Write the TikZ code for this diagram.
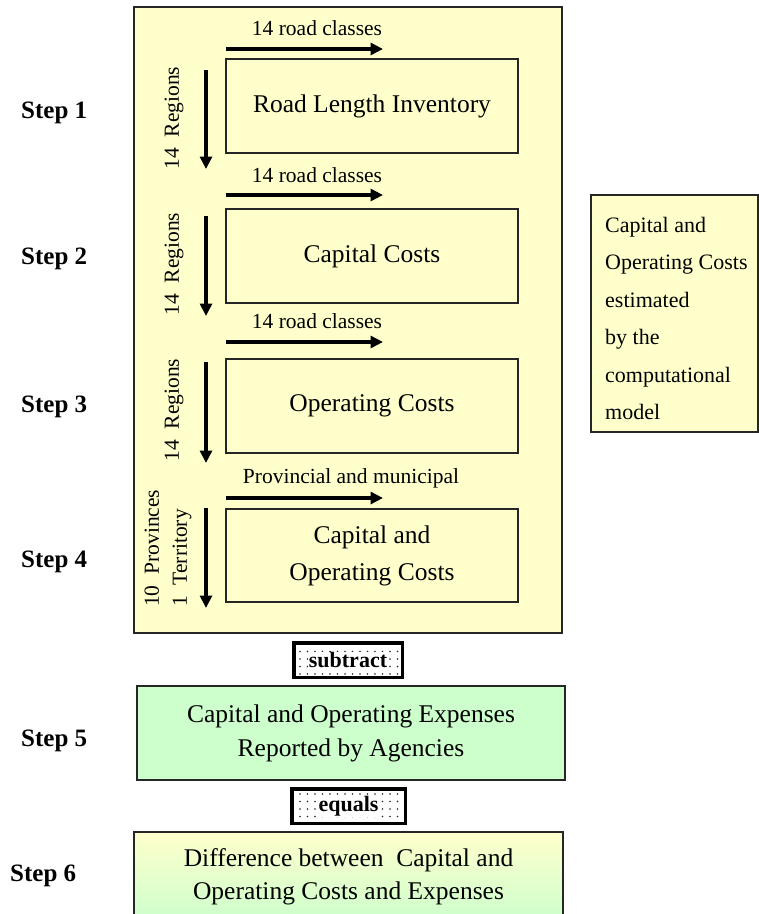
\documentclass[tikz,border=0pt]{standalone}
\usepackage{fontspec}
\setmainfont{Liberation Serif}
\usetikzlibrary{arrows.meta,patterns.meta}
\definecolor{lightyel}{HTML}{FFFFCC}
\definecolor{lightgrn}{HTML}{CCFFCC}
\definecolor{edgecol}{HTML}{262626}
\begin{document}
\begin{tikzpicture}[x=1pt,y=-1pt,
  boxline/.style={draw=edgecol,line width=1.3pt},
  steplabel/.style={font=\fontsize{25}{30}\selectfont\bfseries,anchor=west,inner sep=0pt},
  mainbox/.style={boxline,fill=lightyel,minimum width=428pt,minimum height=626pt,inner sep=0pt},
  innerbox/.style={boxline,fill=lightyel,minimum width=292pt,minimum height=94pt,inner sep=0pt,
    font=\fontsize{25.5}{37}\selectfont,align=center},
  sidebox/.style={boxline,fill=lightyel,minimum width=167pt,minimum height=237pt,inner sep=0pt,
    font=\fontsize{22}{37.4}\selectfont,align=left},
  greenbox/.style={boxline,fill=lightgrn,minimum width=428pt,minimum height=94pt,inner sep=0pt,
    font=\fontsize{25.5}{34}\selectfont,align=center},
  gradbox/.style={boxline,top color=lightyel,bottom color=lightgrn,minimum width=429pt,minimum height=89pt,inner sep=0pt,
    font=\fontsize{25.5}{33}\selectfont,align=center},
  opbox/.style={draw=black,line width=3.5pt,preaction={fill=white},
    pattern={Dots[distance=7.5pt,radius=0.8pt]},pattern color=black!85,
    inner sep=0pt,font=\fontsize{22}{26}\selectfont\bfseries},
  dimlabel/.style={font=\fontsize{21.5}{26}\selectfont,inner sep=0pt},
  rotlabel/.style={font=\fontsize{21.5}{28}\selectfont,inner sep=0pt,rotate=90},
  flowarrow/.style={line width=3.3pt,-{Triangle[length=12.5pt,width=12pt]}}
]
\useasboundingbox (0,0) rectangle (759,914);
\clip (0,0) rectangle (759,914);

% main yellow panel
\node[mainbox] (main) at (348,320) {};

% step labels
\node[steplabel] (s1) at (21,113) {Step 1};
\node[steplabel] (s2) at (21,259) {Step 2};
\node[steplabel] (s3) at (21,407) {Step 3};
\node[steplabel] (s4) at (21,562) {Step 4};
\node[steplabel] (s5) at (21,741) {Step 5};
\node[steplabel] (s6) at (10,876) {Step 6};

% inner boxes
\node[innerbox] (b1) at (372,106) {Road Length Inventory};
\node[innerbox] (b2) at (372,256) {Capital Costs};
\node[innerbox] (b3) at (372,406) {Operating Costs};
\node[innerbox,minimum height=93pt] (b4) at (372,555.5) {Capital and\\Operating Costs};

% horizontal arrows and labels
\coordinate (h1s) at (226,49);  \coordinate (h1e) at (383,49);
\coordinate (h2s) at (226,195); \coordinate (h2e) at (383,195);
\coordinate (h3s) at (226,342); \coordinate (h3e) at (383,342);
\coordinate (h4s) at (226,498); \coordinate (h4e) at (383,498);
\draw[flowarrow] (h1s) -- (h1e);
\draw[flowarrow] (h2s) -- (h2e);
\draw[flowarrow] (h3s) -- (h3e);
\draw[flowarrow] (h4s) -- (h4e);
\node[dimlabel] (l1) at (317,28) {14 road classes};
\node[dimlabel] (l2) at (317,175) {14 road classes};
\node[dimlabel] (l3) at (317,321) {14 road classes};
\node[dimlabel] (l4) at (351,478) {Provincial and municipal};

% vertical arrows and labels
\coordinate (v1s) at (206,70);  \coordinate (v1e) at (206,169);
\coordinate (v2s) at (206,216); \coordinate (v2e) at (206,316);
\coordinate (v3s) at (206,362); \coordinate (v3e) at (206,463);
\coordinate (v4s) at (206,508); \coordinate (v4e) at (206,608);
\draw[flowarrow] (v1s) -- (v1e);
\draw[flowarrow] (v2s) -- (v2e);
\draw[flowarrow] (v3s) -- (v3e);
\draw[flowarrow] (v4s) -- (v4e);
\node[rotlabel] (r1) at (174,118) {14~~Regions};
\node[rotlabel] (r2) at (174,264) {14~~Regions};
\node[rotlabel] (r3) at (174,410) {14~~Regions};
\node[rotlabel,anchor=west,align=left] (r4) at (168,607) {10~~Provinces\\1~~Territory};

% side box
\node[sidebox] (side) at (674.5,313.5) {};
\node[font=\fontsize{22}{37.4}\selectfont,align=left,anchor=north west,inner sep=0pt] (sidetext) at (605,217)
  {Capital and\\Operating Costs\\estimated\\by the\\computational\\model};

% subtract
\node[opbox,minimum width=108.5pt,minimum height=34.5pt] (sub) at (348,660)
  {\setlength{\fboxsep}{0.6pt}\colorbox{white}{subtract}};

% step 5
\node[greenbox] (exp) at (351,733) {Capital and Operating Expenses\\Reported by Agencies};

% equals
\node[opbox,minimum width=113.5pt,minimum height=34.5pt] (eq) at (348.5,806)
  {\setlength{\fboxsep}{0.6pt}\colorbox{white}{equals}};

% step 6
\node[gradbox] (diff) at (348.5,876.5) {Difference between~~Capital and\\Operating Costs and Expenses};
\end{tikzpicture}
\end{document}
